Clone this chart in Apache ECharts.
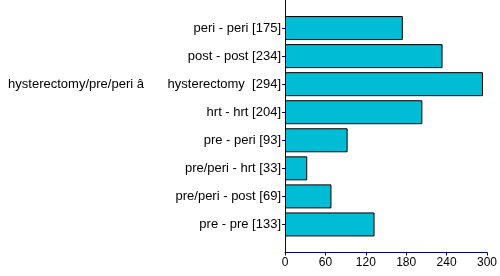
<!DOCTYPE html>
<html><head><meta charset="utf-8">
<script src="https://cdn.jsdelivr.net/npm/echarts@6/dist/echarts.min.js"></script>
<style>html,body{margin:0;padding:0;background:#fff}#c{width:500px;height:276px}</style>
</head><body><div id="c"></div>
<script>
const categories = ['peri - peri [175]', 'post - post [234]', 'hysterectomy/pre/peri \u00e2\u0080\u0094 hysterectomy  [294]', 'hrt - hrt [204]', 'pre - peri [93]', 'pre/peri - hrt [33]', 'pre/peri - post [69]', 'pre - pre [133]'];
const values = [175, 234, 294, 204, 93, 33, 69, 133];
const xTicks = [0, 60, 120, 180, 240, 300];

const cats = [''].concat(categories, ['']);
const vals = [null].concat(values, [null]);
const chart = echarts.init(document.getElementById('c'), null, {renderer: 'canvas'});
chart.setOption({
  animation: false,
  grid: {left: 285, right: 13, top: 0, bottom: 23.5, containLabel: false},
  xAxis: {
    type: 'value', min: xTicks[0], max: xTicks[xTicks.length - 1], interval: 60,
    axisLine: {show: true, lineStyle: {color: '#000080', width: 1}},
    axisTick: {show: true, length: 3, lineStyle: {color: '#000080'}},
    axisLabel: {color: '#000', fontFamily: 'Liberation Sans, Arial, sans-serif', fontSize: 12, margin: 4},
    splitLine: {show: false}
  },
  yAxis: {
    type: 'category', data: cats, inverse: true, boundaryGap: false,
    axisLine: {show: true, lineStyle: {color: '#000080', width: 1}},
    axisTick: {show: true, length: 3, lineStyle: {color: '#000080'},
      interval: function (i) { return i > 0 && i < cats.length - 1; }},
    axisLabel: {color: '#000', fontFamily: 'Liberation Sans, Arial, sans-serif', fontSize: 13, margin: 4, interval: 0},
    splitLine: {show: false}
  },
  series: [{
    type: 'bar', data: vals, barWidth: 24,
    itemStyle: {color: '#00bcd4', borderColor: '#000', borderWidth: 1}
  }]
});
</script></body></html>
